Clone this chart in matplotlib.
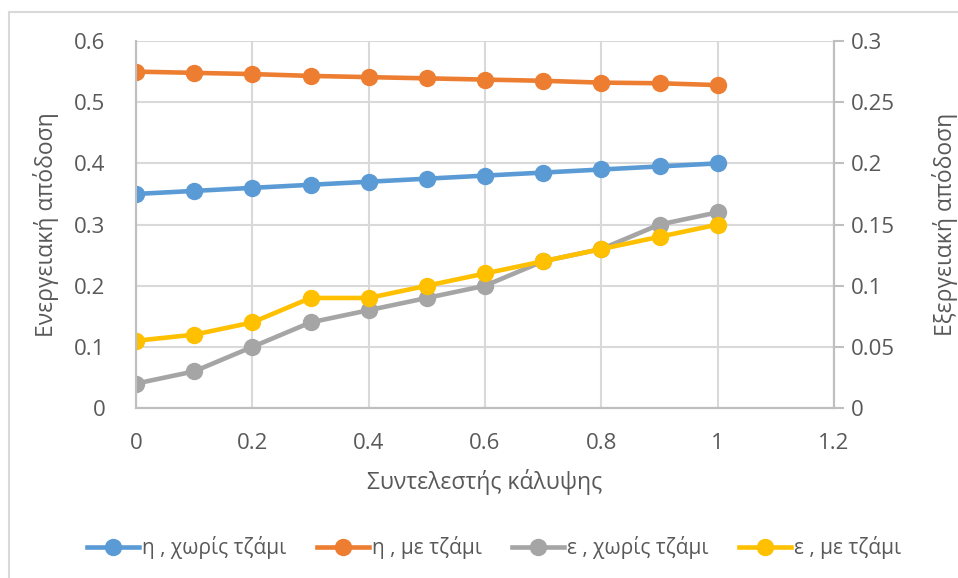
import matplotlib.pyplot as plt
from matplotlib.patches import Rectangle
from matplotlib.lines import Line2D

plt.rcParams['font.family'] = ['Open Sans', 'DejaVu Sans']

# Coverage factor
x = [0, 0.1, 0.2, 0.3, 0.4, 0.5, 0.6, 0.7, 0.8, 0.9, 1.0]

# Energy efficiency (left axis)
eta_no_glass = [0.35, 0.355, 0.36, 0.365, 0.37, 0.375, 0.38, 0.385, 0.39, 0.395, 0.40]
eta_glass = [0.55, 0.548, 0.546, 0.543, 0.541, 0.539, 0.537, 0.535, 0.532, 0.531, 0.528]

# Exergy efficiency (right axis)
eps_no_glass = [0.02, 0.03, 0.05, 0.07, 0.08, 0.09, 0.10, 0.12, 0.13, 0.15, 0.16]
eps_glass = [0.055, 0.06, 0.07, 0.09, 0.09, 0.10, 0.11, 0.12, 0.13, 0.14, 0.15]

labels = ['η , χωρίς τζάμι', 'η , με τζάμι', 'ε , χωρίς τζάμι', 'ε , με τζάμι']
colors = ['#5b9bd5', '#ed7d31', '#a5a5a5', '#ffc000']

text_color = '#595959'
grid_color = '#d9d9d9'
axis_color = '#bfbfbf'

fig = plt.figure(figsize=(9.58, 5.78), dpi=100)
ax = fig.add_axes([0.142, 0.294, 0.7286, 0.635])
ax2 = ax.twinx()

# chart area border
fig.add_artist(Rectangle((9 / 958, -0.1), 1.1, 1 - 12 / 578 + 0.1,
                         transform=fig.transFigure, fill=False,
                         edgecolor=grid_color, linewidth=1.5))

style = dict(linewidth=3.3, marker='o', markersize=11.5, solid_capstyle='round')
ax.plot(x, eta_no_glass, color=colors[0], zorder=3, **style)
ax.plot(x, eta_glass, color=colors[1], zorder=3, **style)
ax2.plot(x, eps_no_glass, color=colors[2], **style)
ax2.plot(x, eps_glass, color=colors[3], **style)

ax.set_xlim(0, 1.2)
ax.set_ylim(0, 0.6)
ax2.set_ylim(0, 0.3)
ax.set_xticks([0, 0.2, 0.4, 0.6, 0.8, 1.0, 1.2])
ax.set_xticklabels(['0', '0.2', '0.4', '0.6', '0.8', '1', '1.2'])
ax.set_yticks([0, 0.1, 0.2, 0.3, 0.4, 0.5, 0.6])
ax.set_yticklabels(['0', '0.1', '0.2', '0.3', '0.4', '0.5', '0.6'])
ax2.set_yticks([0, 0.05, 0.1, 0.15, 0.2, 0.25, 0.3])
ax2.set_yticklabels(['0', '0.05', '0.1', '0.15', '0.2', '0.25', '0.3'])

ax.grid(True, color=grid_color, linewidth=1.5)
ax.set_axisbelow(True)

for a in (ax, ax2):
    a.spines['top'].set_visible(False)
    for side in ('left', 'right', 'bottom'):
        a.spines[side].set_color(axis_color)
        a.spines[side].set_linewidth(1.5)

ax.tick_params(axis='both', length=0, labelsize=16, labelcolor=text_color)
ax.tick_params(axis='y', pad=22)
ax.tick_params(axis='x', pad=18)
ax2.tick_params(axis='y', length=7, width=1.5, color=axis_color,
                labelsize=16, labelcolor=text_color, pad=5)

ax.set_xlabel('Συντελεστής κάλυψης', fontsize=16.5, color=text_color, labelpad=11)
ax.set_ylabel('Ενεργειακή απόδοση', fontsize=16.5, color=text_color, labelpad=11)
ax2.set_ylabel('Εξεργειακή απόδοση', fontsize=16.5, color=text_color, labelpad=27)

handles = [Line2D([], [], color=c, linewidth=3.3, marker='o', markersize=11.5) for c in colors]
fig.legend(handles, labels, loc='center', bbox_to_anchor=(0.516, 0.052), ncol=4,
           frameon=False, fontsize=15, labelcolor=text_color,
           handlelength=2.5, handletextpad=0.15, columnspacing=1.45)

fig.savefig('out.png', dpi=100)
